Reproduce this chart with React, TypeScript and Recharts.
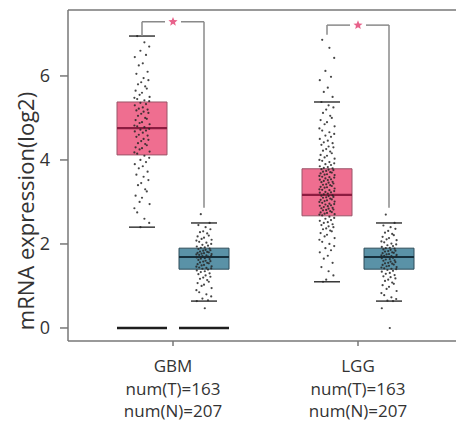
import React from 'react';
import {
  ComposedChart,
  XAxis,
  YAxis,
  Scatter,
  ReferenceArea,
  ReferenceLine,
  ReferenceDot,
} from 'recharts';

const CATEGORIES = ['GBM', 'LGG'];
const NUM_T = [163, 163];
const NUM_N = [207, 207];
const Y_TICKS = [0, 2, 4, 6];

// [whiskerLow, q1, median, q3, whiskerHigh]
const TUMOR_BOX = [
  [2.4, 4.12, 4.76, 5.38, 6.95],
  [1.1, 2.67, 3.17, 3.79, 5.38],
];
const NORMAL_BOX = [
  [0.64, 1.4, 1.69, 1.9, 2.5],
  [0.64, 1.4, 1.69, 1.9, 2.5],
];
const HAS_ZERO_BOXES = [true, false];
const BRACKET_TOP = [7.29, 7.21];
const BRACKET_LEFT_END = [6.95, 6.98];
const BRACKET_RIGHT_END = [2.86, 2.86];

const GBM_T = [
  6.95, 6.8, 6.7, 6.6, 6.5, 6.45, 6.3, 6.25, 6.1, 6.05, 5.95, 5.9, 5.85, 5.8, 5.75, 5.7, 5.65, 5.6,
  5.55, 5.5, 5.48, 5.45, 5.42, 5.4, 5.36, 5.33, 5.3, 5.25, 5.22, 5.2, 5.18, 5.15, 5.12, 5.1, 5.05,
  5.0, 4.98, 4.95, 4.9, 4.88, 4.85, 4.82, 4.8, 4.78, 4.74, 4.72, 4.7, 4.68, 4.65, 4.6, 4.58, 4.55,
  4.5, 4.48, 4.45, 4.4, 4.38, 4.35, 4.3, 4.28, 4.25, 4.2, 4.18, 4.15, 4.1, 4.05, 4.0, 3.95, 3.9,
  3.85, 3.8, 3.72, 3.65, 3.6, 3.52, 3.45, 3.4, 3.3, 3.25, 3.15, 3.1, 3.0, 2.95, 2.85, 2.75, 2.6,
  2.5, 2.4,
];
const GBM_N = [
  2.71, 2.5, 2.45, 2.4, 2.35, 2.3, 2.28, 2.25, 2.2, 2.18, 2.15, 2.12, 2.1, 2.08, 2.05, 2.03, 2.0,
  1.98, 1.96, 1.94, 1.92, 1.91, 1.89, 1.88, 1.86, 1.85, 1.84, 1.82, 1.81, 1.8, 1.79, 1.78, 1.77,
  1.76, 1.75, 1.74, 1.73, 1.72, 1.71, 1.7, 1.68, 1.66, 1.65, 1.64, 1.62, 1.6, 1.59, 1.58, 1.56,
  1.55, 1.54, 1.52, 1.5, 1.49, 1.47, 1.46, 1.44, 1.43, 1.42, 1.41, 1.39, 1.37, 1.35, 1.33, 1.3,
  1.28, 1.25, 1.22, 1.2, 1.17, 1.14, 1.1, 1.07, 1.03, 1.0, 0.95, 0.9, 0.85, 0.8, 0.75, 0.7, 0.66,
  0.64, 0.47,
];
const LGG_T = [
  6.86, 6.67, 6.43, 6.12, 5.98, 5.9, 5.72, 5.62, 5.5, 5.38, 5.3, 5.25, 5.2, 5.12, 5.05, 5.0, 4.95,
  4.9, 4.85, 4.8, 4.75, 4.7, 4.66, 4.62, 4.58, 4.55, 4.5, 4.46, 4.42, 4.4, 4.36, 4.32, 4.3, 4.26,
  4.22, 4.2, 4.16, 4.12, 4.1, 4.06, 4.03, 4.0, 3.98, 3.95, 3.92, 3.9, 3.88, 3.85, 3.83, 3.81, 3.8,
  3.78, 3.77, 3.76, 3.74, 3.72, 3.71, 3.7, 3.68, 3.66, 3.65, 3.64, 3.62, 3.6, 3.59, 3.58, 3.56,
  3.54, 3.53, 3.52, 3.5, 3.48, 3.47, 3.46, 3.44, 3.42, 3.41, 3.4, 3.38, 3.36, 3.35, 3.34, 3.32,
  3.3, 3.29, 3.28, 3.26, 3.24, 3.23, 3.22, 3.2, 3.18, 3.16, 3.15, 3.14, 3.12, 3.11, 3.1, 3.08,
  3.06, 3.05, 3.04, 3.02, 3.01, 3.0, 2.98, 2.96, 2.95, 2.94, 2.92, 2.91, 2.9, 2.88, 2.86, 2.85,
  2.84, 2.82, 2.81, 2.8, 2.78, 2.76, 2.75, 2.74, 2.72, 2.71, 2.7, 2.68, 2.65, 2.62, 2.6, 2.57,
  2.55, 2.52, 2.5, 2.47, 2.45, 2.42, 2.4, 2.37, 2.35, 2.32, 2.3, 2.26, 2.22, 2.18, 2.14, 2.1, 2.05,
  2.0, 1.95, 1.9, 1.85, 1.8, 1.72, 1.65, 1.55, 1.45, 1.35, 1.25, 1.15, 1.1,
];
const LGG_N = [
  2.7, 2.5, 2.44, 2.4, 2.36, 2.31, 2.27, 2.24, 2.21, 2.17, 2.14, 2.11, 2.09, 2.06, 2.04, 2.01,
  1.99, 1.97, 1.95, 1.93, 1.91, 1.9, 1.89, 1.87, 1.86, 1.84, 1.83, 1.82, 1.8, 1.79, 1.78, 1.76,
  1.75, 1.74, 1.73, 1.72, 1.71, 1.7, 1.69, 1.67, 1.66, 1.64, 1.63, 1.61, 1.6, 1.58, 1.57, 1.55,
  1.54, 1.53, 1.51, 1.5, 1.48, 1.47, 1.45, 1.44, 1.42, 1.41, 1.4, 1.38, 1.36, 1.34, 1.31, 1.29,
  1.26, 1.23, 1.21, 1.18, 1.15, 1.12, 1.08, 1.05, 1.02, 0.98, 0.93, 0.88, 0.83, 0.78, 0.73, 0.69,
  0.65, 0.64, 0.47, 0.0,
];

const TUMOR_POINTS = [GBM_T, LGG_T];
const NORMAL_POINTS = [GBM_N, LGG_N];

// layout (x in category units; 1 unit = distance between categories)
const PX = 1 / 185;
const X_MIN = 1 - 105 * PX;
const X_MAX = 2 + 105 * PX;
const Y_MIN = -0.31;
const Y_MAX = 7.57;
const OFF = 31 * PX;
const HALF = 25 * PX;
const CAP = 13 * PX;
const JIT = 8 * PX;
const STAR_GAP = 8 * PX;
const JITTER_PATTERN = [
  -0.6, 0.3, 0.9, -0.2, 0.5, -0.9, 0.1, -0.4, 0.7, -0.7, 0.2, 0.8, -0.1, -0.5, 0.4, 0.6, -0.8, 0.0,
  -0.3, 0.95, -0.95,
];

const TUMOR_FILL = '#EF6E90';
const TUMOR_STROKE = '#9A5468';
const TUMOR_MED = '#8C1C40';
const NORMAL_FILL = '#5A92A7';
const NORMAL_STROKE = '#2E4C5A';
const NORMAL_MED = '#16303D';
const FONT = '"Open Sans", "DejaVu Sans", sans-serif';

const points: { x: number; y: number }[] = [];
CATEGORIES.forEach((_, ci) => {
  const c = ci + 1;
  TUMOR_POINTS[ci].forEach((v, i) => {
    points.push({ x: c - OFF + JITTER_PATTERN[i % JITTER_PATTERN.length] * JIT, y: v });
  });
  NORMAL_POINTS[ci].forEach((v, i) => {
    points.push({ x: c + OFF + JITTER_PATTERN[(i + 7) % JITTER_PATTERN.length] * JIT, y: v });
  });
});

const Dot = (p: any) => <circle cx={p.cx} cy={p.cy} r={1.1} fill="#262626" fillOpacity={0.85} />;

const Star = (p: any) => {
  const { cx, cy } = p;
  const pts: string[] = [];
  for (let i = 0; i < 10; i++) {
    const r = i % 2 ? 2.1 : 4.8;
    const a = -Math.PI / 2 + (i * Math.PI) / 5;
    pts.push(`${cx + r * Math.cos(a)},${cy + r * Math.sin(a)}`);
  }
  return <polygon points={pts.join(' ')} fill="#E8628B" />;
};

const CatTick = (props: any) => {
  const { x, y, payload } = props;
  const i = Math.round(payload.value) - 1;
  const common = { x, textAnchor: 'middle' as const, fill: '#333', fontSize: 17, fontFamily: FONT };
  return (
    <g>
      <text {...common} y={y + 24}>{CATEGORIES[i]}</text>
      <text {...common} y={y + 47}>{`num(T)=${NUM_T[i]}`}</text>
      <text {...common} y={y + 69}>{`num(N)=${NUM_N[i]}`}</text>
    </g>
  );
};

const YLabel = (props: any) => {
  const { viewBox } = props;
  const x = viewBox.x + 25;
  const y = 211;
  return (
    <text
      x={x}
      y={y}
      transform={`rotate(-90 ${x} ${y})`}
      textAnchor="middle"
      dominantBaseline="central"
      fill="#333"
      fontSize={22}
      fontFamily={FONT}
    >
      mRNA expression(log2)
    </text>
  );
};

const seg = (x1: number, y1: number, x2: number, y2: number) => [
  { x: x1, y: y1 },
  { x: x2, y: y2 },
];

export default function App() {
  const refs: React.ReactNode[] = [];
  CATEGORIES.forEach((_, ci) => {
    const c = ci + 1;
    const groups = [
      { cx: c - OFF, b: TUMOR_BOX[ci], fill: TUMOR_FILL, stroke: TUMOR_STROKE },
      { cx: c + OFF, b: NORMAL_BOX[ci], fill: NORMAL_FILL, stroke: NORMAL_STROKE },
    ];
    groups.forEach((g, gi) => {
      refs.push(
        <ReferenceArea
          key={`box-${ci}-${gi}`}
          x1={g.cx - HALF}
          x2={g.cx + HALF}
          y1={g.b[1]}
          y2={g.b[3]}
          fill={g.fill}
          fillOpacity={1}
          stroke={g.stroke}
          strokeWidth={1}
        />
      );
    });
  });

  const lines: React.ReactNode[] = [];
  CATEGORIES.forEach((_, ci) => {
    const c = ci + 1;
    const groups = [
      { cx: c - OFF, b: TUMOR_BOX[ci], med: TUMOR_MED },
      { cx: c + OFF, b: NORMAL_BOX[ci], med: NORMAL_MED },
    ];
    groups.forEach((g, gi) => {
      lines.push(
        <ReferenceLine
          key={`med-${ci}-${gi}`}
          segment={seg(g.cx - HALF, g.b[2], g.cx + HALF, g.b[2])}
          stroke={g.med}
          strokeWidth={2.2}
        />,
        <ReferenceLine
          key={`lo-${ci}-${gi}`}
          segment={seg(g.cx - CAP, g.b[0], g.cx + CAP, g.b[0])}
          stroke="#3a3a3a"
          strokeWidth={1.5}
        />,
        <ReferenceLine
          key={`hi-${ci}-${gi}`}
          segment={seg(g.cx - CAP, g.b[4], g.cx + CAP, g.b[4])}
          stroke="#3a3a3a"
          strokeWidth={1.5}
        />
      );
      if (HAS_ZERO_BOXES[ci]) {
        lines.push(
          <ReferenceLine
            key={`zero-${ci}-${gi}`}
            segment={seg(g.cx - HALF, 0, g.cx + HALF, 0)}
            stroke="#1e1e1e"
            strokeWidth={2.5}
          />
        );
      }
    });
    const top = BRACKET_TOP[ci];
    const l = c - OFF;
    const r = c + OFF;
    const bc = '#8a8a8a';
    lines.push(
      <ReferenceLine key={`bl-${ci}`} segment={seg(l, BRACKET_LEFT_END[ci], l, top)} stroke={bc} strokeWidth={1.5} />,
      <ReferenceLine key={`bt1-${ci}`} segment={seg(l, top, c - STAR_GAP, top)} stroke={bc} strokeWidth={1.5} />,
      <ReferenceLine key={`bt2-${ci}`} segment={seg(c + STAR_GAP, top, r, top)} stroke={bc} strokeWidth={1.5} />,
      <ReferenceLine key={`br-${ci}`} segment={seg(r, top, r, BRACKET_RIGHT_END[ci])} stroke={bc} strokeWidth={1.5} />,
      <ReferenceDot key={`star-${ci}`} x={c} y={top} r={5} shape={Star} />
    );
  });

  return (
    <div
      style={{
        position: 'absolute',
        left: 0,
        top: 0,
        width: 456,
        height: 421,
        overflow: 'hidden',
        background: '#fff',
      }}
    >
      <ComposedChart width={480} height={421} margin={{ top: 10, right: 17, bottom: 0, left: 0 }} data={points}>
        <XAxis
          type="number"
          dataKey="x"
          domain={[X_MIN, X_MAX]}
          ticks={[1, 2]}
          allowDataOverflow
          tickSize={5}
          tickMargin={2}
          axisLine={{ stroke: '#777', strokeWidth: 1.5 }}
          tickLine={{ stroke: '#777', strokeWidth: 1.5 }}
          tick={<CatTick />}
          height={80}
          interval={0}
        />
        <YAxis
          type="number"
          dataKey="y"
          domain={[Y_MIN, Y_MAX]}
          ticks={Y_TICKS}
          allowDataOverflow
          width={68}
          tickSize={8}
          tickMargin={10}
          axisLine={{ stroke: '#777', strokeWidth: 1.5 }}
          tickLine={{ stroke: '#777', strokeWidth: 1.5 }}
          tick={{ fill: '#333', fontSize: 18, fontFamily: FONT }}
          label={{ content: <YLabel /> }}
        />
        <ReferenceLine y={Y_MAX} stroke="#777" strokeWidth={1.5} ifOverflow="visible" />
        {refs}
        <Scatter data={points} dataKey="y" shape={Dot} isAnimationActive={false} />
        {lines}
      </ComposedChart>
    </div>
  );
}
